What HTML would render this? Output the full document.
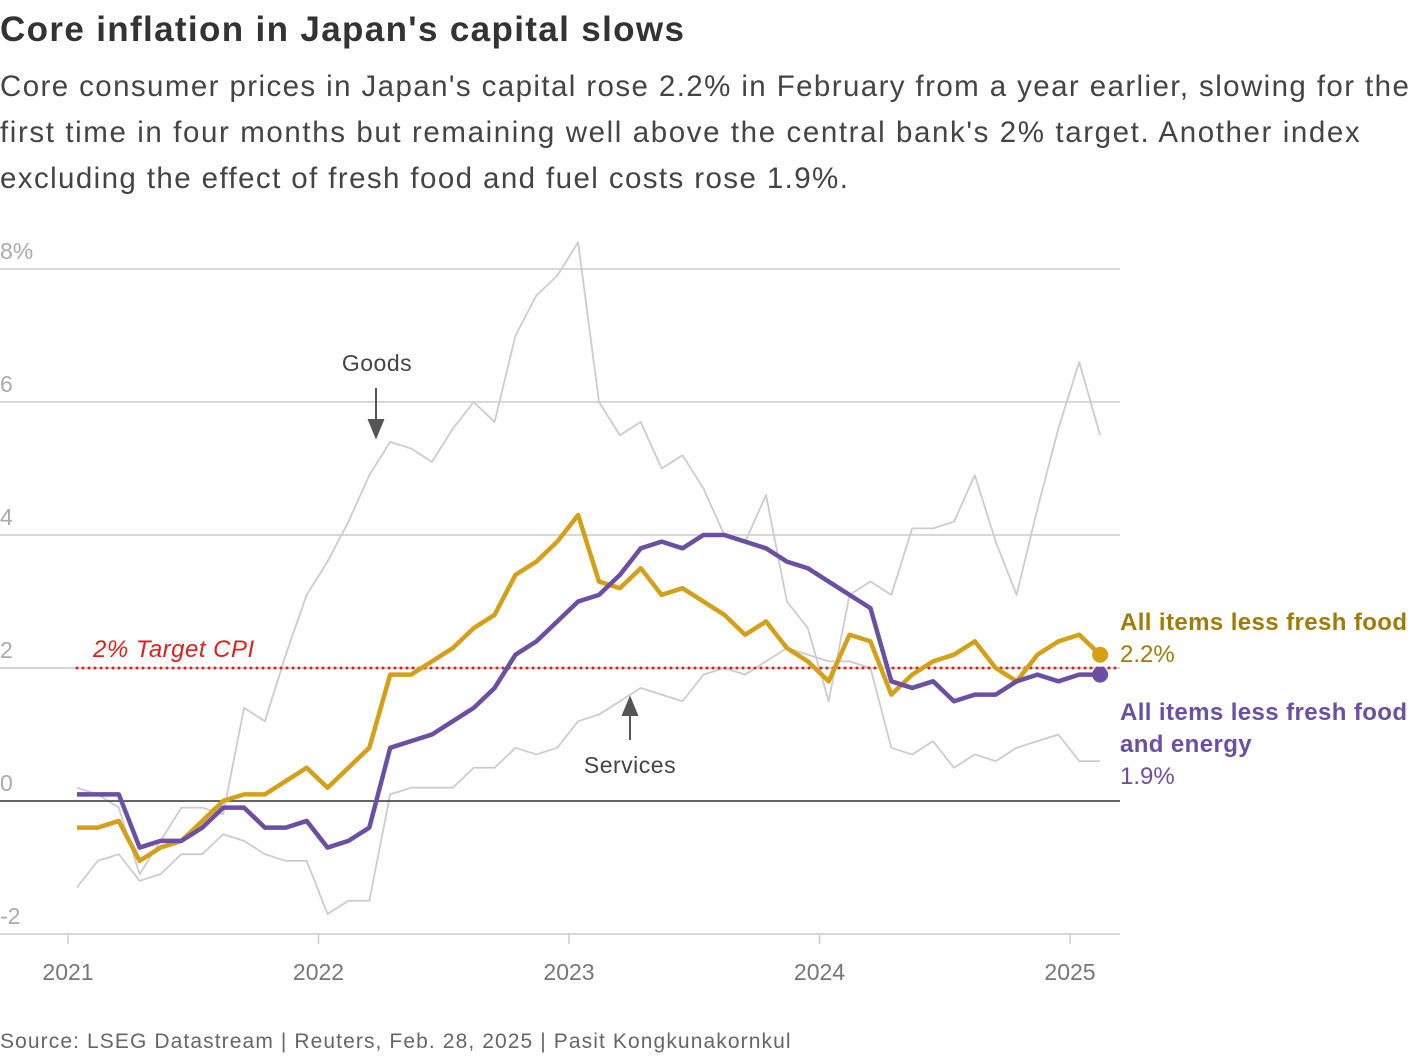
<!DOCTYPE html>
<html><head><meta charset="utf-8"><style>
body{margin:0;width:1420px;height:1058px;background:#fff;font-family:"Liberation Sans",sans-serif;overflow:hidden}
h1{position:absolute;left:0;top:10px;margin:0;font-size:35px;font-weight:bold;color:#333;letter-spacing:1.35px;white-space:nowrap}
p.sub{position:absolute;left:0;top:64px;margin:0;font-size:29.5px;line-height:46px;color:#444;white-space:nowrap;letter-spacing:1.4px}
.src{position:absolute;left:0;top:1030px;font-size:21px;color:#666;letter-spacing:1.1px;white-space:nowrap}
</style></head><body>
<h1>Core inflation in Japan's capital slows</h1>
<p class="sub">Core consumer prices in Japan's capital rose 2.2% in February from a year earlier, slowing for the<br><span style="letter-spacing:1.6px">first time in four months but remaining well above the central bank's 2% target. Another index</span><br>excluding the effect of fresh food and fuel costs rose 1.9%.</p>
<svg id="chart" width="1420" height="1058" style="position:absolute;left:0;top:0"></svg>
<div class="src">Source: LSEG Datastream | Reuters, Feb. 28, 2025 | Pasit Kongkunakornkul</div>
<script>
const yTicks=[-2,0,2,4,6,8];
const yTickLabels=["-2","0","2","4","6","8%"];
const years=["2021","2022","2023","2024","2025"];
const core=[-0.4,-0.4,-0.3,-0.9,-0.7,-0.6,-0.3,0.0,0.1,0.1,0.3,0.5,
0.2,0.5,0.8,1.9,1.9,2.1,2.3,2.6,2.8,3.4,3.6,3.9,
4.3,3.3,3.2,3.5,3.1,3.2,3.0,2.8,2.5,2.7,2.3,2.1,
1.8,2.5,2.4,1.6,1.9,2.1,2.2,2.4,2.0,1.8,2.2,2.4,2.5,2.2];
const coreCore=[0.1,0.1,0.1,-0.7,-0.6,-0.6,-0.4,-0.1,-0.1,-0.4,-0.4,-0.3,
-0.7,-0.6,-0.4,0.8,0.9,1.0,1.2,1.4,1.7,2.2,2.4,2.7,
3.0,3.1,3.4,3.8,3.9,3.8,4.0,4.0,3.9,3.8,3.6,3.5,
3.3,3.1,2.9,1.8,1.7,1.8,1.5,1.6,1.6,1.8,1.9,1.8,1.9,1.9];
const goods=[0.2,0.1,-0.1,-1.1,-0.6,-0.1,-0.1,-0.2,1.4,1.2,2.2,3.1,
3.6,4.2,4.9,5.4,5.3,5.1,5.6,6.0,5.7,7.0,7.6,7.9,
8.4,6.0,5.5,5.7,5.0,5.2,4.7,4.0,3.9,4.6,3.0,2.6,
1.5,3.1,3.3,3.1,4.1,4.1,4.2,4.9,3.9,3.1,4.4,5.6,6.6,5.5];
const services=[-1.3,-0.9,-0.8,-1.2,-1.1,-0.8,-0.8,-0.5,-0.6,-0.8,-0.9,-0.9,
-1.7,-1.5,-1.5,0.1,0.2,0.2,0.2,0.5,0.5,0.8,0.7,0.8,
1.2,1.3,1.5,1.7,1.6,1.5,1.9,2.0,1.9,2.1,2.3,2.2,
2.1,2.1,2.0,0.8,0.7,0.9,0.5,0.7,0.6,0.8,0.9,1.0,0.6,0.6];
const target=2;
const NS="http://www.w3.org/2000/svg";
const svg=document.getElementById('chart');
const y=v=>801-v*66.5;
const x=i=>77+i*20.88;
const yearX=k=>68+k*250.5;
function mk(t,a){const e=document.createElementNS(NS,t);for(const k in a)e.setAttribute(k,a[k]);svg.appendChild(e);return e;}
yTicks.forEach((v,k)=>{
 if(v!==0){const l=mk('line',{x1:0,x2:1120,y1:y(v),y2:y(v),stroke:'#ccc','stroke-width':1.5});
 
 }
 const t=mk('text',{x:0,y:y(v)-10,'font-size':23,fill:'#aaa','font-family':'Liberation Sans'});t.textContent=yTickLabels[k];
 
 
});
years.forEach((yr,k)=>{
 const l=mk('line',{x1:yearX(k),x2:yearX(k),y1:934,y2:944,stroke:'#ccc','stroke-width':1.5});
 
 
 const t=mk('text',{x:yearX(k),y:980,'font-size':23,fill:'#777','text-anchor':'middle','font-family':'Liberation Sans'});t.textContent=yr;
 
 
});
function path(data,color,w,name){
 const d=data.map((v,i)=>(i?'L':'M')+x(i)+','+y(v)).join('');
 const p=mk('path',{d:d,fill:'none',stroke:color,'stroke-width':w,'stroke-linejoin':'round'});
 
 
}
path(goods,'#ccc',1.8,'goods-line');
path(services,'#ccc',1.8,'services-line');
const zl=mk('line',{x1:0,x2:1120,y1:y(0),y2:y(0),stroke:'#333','stroke-width':1.5});


const tl=mk('line',{x1:77,x2:1120,y1:y(target),y2:y(target),stroke:'#e0201b','stroke-width':3,'stroke-dasharray':'0 6','stroke-linecap':'round'});


const tt=mk('text',{x:93,y:657,'font-size':24,fill:'#e0201b','font-style':'italic','font-family':'Liberation Sans','letter-spacing':0.5});tt.textContent='2% Target CPI';


path(core,'#d4a017',4.5,'core-cpi-line');
path(coreCore,'#6b4fa3',4.5,'core-core-cpi-line');
const d1=mk('circle',{cx:x(core.length-1),cy:y(core[core.length-1]),r:8,fill:'#d4a017'});


const d2=mk('circle',{cx:x(coreCore.length-1),cy:y(coreCore[coreCore.length-1]),r:8,fill:'#6b4fa3'});


function txt(s,a,name){const t=mk('text',Object.assign({'font-family':'Liberation Sans'},a));t.textContent=s;
 
 }
txt('Goods',{x:377,y:371,'font-size':23,fill:'#444','text-anchor':'middle','letter-spacing':0.5},'goods-annotation');
txt('Services',{x:630,y:773,'font-size':23,fill:'#444','text-anchor':'middle','letter-spacing':0.5},'services-annotation');
const a1=mk('path',{d:'M376,388V420M369,420L376,437L383,420Z',stroke:'#555','stroke-width':2,fill:'#555'});


const a2=mk('path',{d:'M630,740V715M623,715L630,698L637,715Z',stroke:'#555','stroke-width':2,fill:'#555'});


txt('All items less fresh food',{x:1120,y:630,'font-size':24,'font-weight':'bold',fill:'#a07c06','letter-spacing':0.4},'core-legend-label');
txt('2.2%',{x:1120,y:662,'font-size':24,fill:'#a07c06'},'core-legend-value');
txt('All items less fresh food',{x:1120,y:720,'font-size':24,'font-weight':'bold',fill:'#6b4fa3','letter-spacing':0.4},'core-core-legend-label');
txt('and energy',{x:1120,y:752,'font-size':24,'font-weight':'bold',fill:'#6b4fa3','letter-spacing':0.4},'core-core-legend-label-2');
txt('1.9%',{x:1120,y:784,'font-size':24,fill:'#6b4fa3'},'core-core-legend-value');
</script>
</body></html>
